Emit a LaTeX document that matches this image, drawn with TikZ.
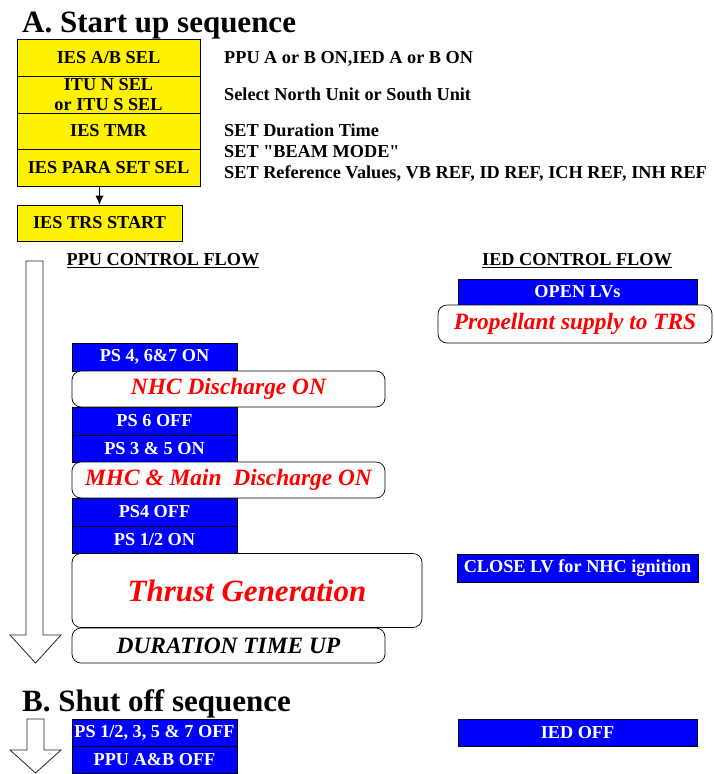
\documentclass[tikz,border=0pt]{standalone}
\usepackage{fontspec}
\setmainfont{Liberation Serif}[Ligatures=TeXOff]
\usetikzlibrary{arrows.meta}
\newcommand\myboxfont{\fontsize{18.25}{21}\selectfont\bfseries}
\newcommand\myredfont{\fontsize{23.4}{26}\selectfont\bfseries\itshape}
\newcommand\mytitlefont{\fontsize{31}{34}\selectfont\bfseries}
\begin{document}
\begin{tikzpicture}[x=1pt,y=-1pt,
  ybox/.style={draw=black, fill=yellow, line width=0.7pt, inner sep=0pt, font=\myboxfont, align=center},
  bbox/.style={draw=black, fill=blue, text=white, line width=0.7pt, inner sep=0pt, font=\myboxfont},
  rbox/.style={draw=black, fill=white, rounded corners=9pt, line width=0.7pt, inner sep=0pt, text=red, font=\myredfont},
  note/.style={anchor=west, inner sep=0pt, font=\myboxfont},
  head/.style={inner sep=0pt, font=\myboxfont},
  title/.style={anchor=base west, inner sep=0pt, font=\mytitlefont},
  hollow/.style={draw=black!85, fill=white, line width=0.8pt}]
\useasboundingbox (0,0) rectangle (713,774);

% Titles
\node[title] (tA) at (22,32) {A. Start up sequence};
\node[title] (tB) at (22,711) {B. Shut off sequence};

% Yellow stack
\node[ybox, minimum width=183pt, minimum height=37pt] (y1) at (108.5,57.5) {IES A/B SEL};
\node[ybox, minimum width=183pt, minimum height=37pt] (y2) at (108.5,94.5) {ITU N SEL\\[-1.5pt]or ITU S SEL};
\node[ybox, minimum width=183pt, minimum height=36pt] (y3) at (108.5,131) {IES TMR};
\node[ybox, minimum width=183pt, minimum height=37pt] (y4) at (108.5,167.5) {IES PARA SET SEL};
\node[ybox, minimum width=165pt, minimum height=36pt] (trs) at (99.5,223) {IES TRS START};
\draw[-{Latex[length=9pt,width=8pt]}, line width=0.7pt] (trs.north |- y4.south) -- (trs.north);

% Notes
\node[note] (n1) at (224,59) {PPU A or B ON,IED A or B ON};
\node[note] (n2) at (224,94) {Select North Unit or South Unit};
\node[note] (n3) at (224,130) {SET Duration Time};
\node[note] (n4) at (224,152) {SET "BEAM MODE"};
\node[note] (n5) at (224,173) {SET Reference Values, VB REF, ID REF, ICH REF, INH REF};

% Headings
\node[head] (hp) at (163,261) {\underline{PPU CONTROL FLOW}};
\node[head] (hi) at (577,261) {\underline{IED CONTROL FLOW}};

% Big hollow arrow
\draw[hollow] (26,261) -- (43,261) -- (43,635) -- (61,635) -- (35.5,663) -- (10,635) -- (26,635) -- cycle;

% PPU flow
\node[bbox, minimum width=165pt, minimum height=28pt] (p1) at (154.5,357) {PS 4, 6\&7 ON};
\node[bbox, minimum width=165pt, minimum height=28pt] (p2) at (154.5,421) {PS 6 OFF};
\node[bbox, minimum width=165pt, minimum height=27pt] (p3) at (154.5,448.5) {PS 3 \& 5 ON};
\node[bbox, minimum width=165pt, minimum height=28pt] (p4) at (154.5,512) {PS4 OFF};
\node[bbox, minimum width=165pt, minimum height=27pt] (p5) at (154.5,539.5) {PS 1/2 ON};
\node[rbox, minimum width=313pt, minimum height=36pt] (r1) at (228.5,389) {NHC Discharge ON};
\node[rbox, minimum width=313pt, minimum height=36pt] (r2) at (228.5,480) {MHC \& Main\ \ Discharge ON};
\node[rbox, minimum width=350pt, minimum height=74pt, font=\fontsize{31}{34}\selectfont\bfseries\itshape] (r3) at (247,590.5) {Thrust Generation};
\node[rbox, minimum width=313pt, minimum height=35pt, text=black] (r4) at (228.5,645.5) {DURATION TIME UP};

% IED flow
\node[bbox, minimum width=239pt, minimum height=26pt] (i1) at (577.5,292) {OPEN LVs};
\node[rbox, minimum width=274pt, minimum height=38pt] (i2) at (575,324) {Propellant supply to TRS};
\node[bbox, minimum width=241pt, minimum height=28pt] (i3) at (577.5,568) {CLOSE LV for NHC ignition};

% Shut off
\draw[hollow] (27,719) -- (44,719) -- (44,750) -- (61,750) -- (35.5,773) -- (10,750) -- (27,750) -- cycle;
\node[bbox, minimum width=165pt, minimum height=27pt] (s1) at (154.5,733) {PS 1/2, 3, 5 \& 7 OFF};
\node[bbox, minimum width=165pt, minimum height=27pt] (s2) at (154.5,760) {PPU A\&B OFF};
\node[bbox, minimum width=239pt, minimum height=27pt] (s3) at (577.5,732.5) {IED OFF};
\end{tikzpicture}
\end{document}
